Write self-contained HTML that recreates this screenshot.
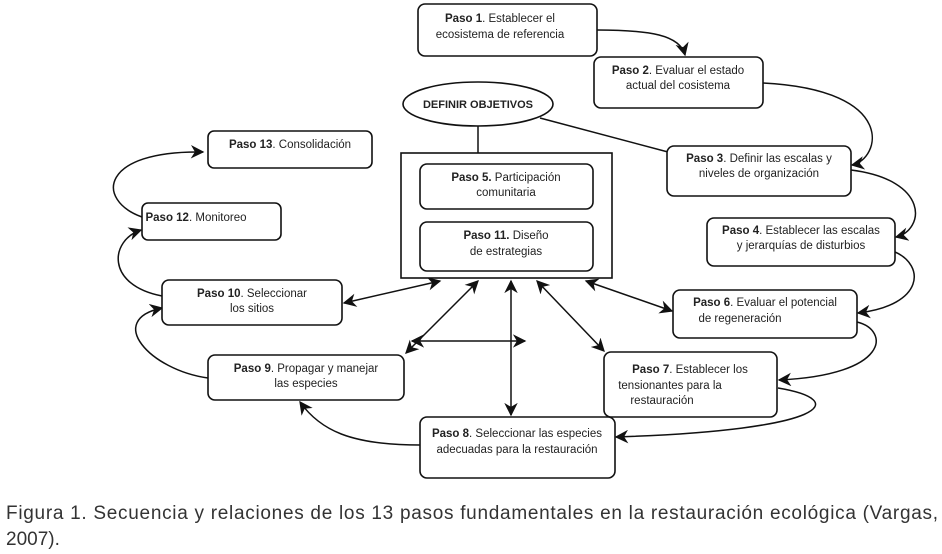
<!DOCTYPE html>
<html><head><meta charset="utf-8"><style>
body{margin:0;background:#fff;}
svg{display:block;font-family:"Liberation Sans",sans-serif;}
.b{fill:#fff;stroke:#111;stroke-width:1.6;}
.l{fill:none;stroke:#111;stroke-width:1.5;}
text{font-size:11.5px;fill:#222;}
.k{font-weight:bold;}
</style></head><body>
<svg width="942" height="554" viewBox="0 0 942 554">
<defs>
<marker id="a" viewBox="0 0 10 10" refX="9" refY="5" markerWidth="9" markerHeight="9" orient="auto-start-reverse"><path d="M0,0 L10,5 L0,10 L3,5z" fill="#111"/></marker>
</defs>
<path class="l" d="M597,30 C650,30 680,35 685,55" marker-end="url(#a)"/>
<path class="l" d="M763,83 C900,90 880,160 852,165" marker-end="url(#a)"/>
<path class="l" d="M851,170 C930,180 925,230 896,237" marker-end="url(#a)"/>
<path class="l" d="M895,252 C925,265 925,305 858,313" marker-end="url(#a)"/>
<path class="l" d="M857,322 C890,330 890,375 779,380" marker-end="url(#a)"/>
<path class="l" d="M778,388 C850,400 830,430 616,437" marker-end="url(#a)"/>
<path class="l" d="M420,445 C350,445 320,430 300,402" marker-end="url(#a)"/>
<path class="l" d="M208,378 C150,370 105,320 162,308" marker-end="url(#a)"/>
<path class="l" d="M162,296 C105,285 110,240 141,230" marker-end="url(#a)"/>
<path class="l" d="M142,217 C95,200 100,150 203,152" marker-end="url(#a)"/>
<line class="l" x1="540" y1="118" x2="668" y2="152"/>
<line class="l" x1="478" y1="126" x2="478" y2="153"/>
<line class="l" x1="344" y1="303" x2="440" y2="281" marker-start="url(#a)" marker-end="url(#a)"/>
<line class="l" x1="406" y1="353" x2="478" y2="281" marker-start="url(#a)" marker-end="url(#a)"/>
<line class="l" x1="511" y1="415" x2="511" y2="281" marker-start="url(#a)" marker-end="url(#a)"/>
<line class="l" x1="604" y1="351" x2="537" y2="281" marker-start="url(#a)" marker-end="url(#a)"/>
<line class="l" x1="672" y1="311" x2="586" y2="281" marker-start="url(#a)" marker-end="url(#a)"/>
<line class="l" x1="412" y1="341" x2="525" y2="341" marker-start="url(#a)" marker-end="url(#a)"/>
<ellipse class="b" cx="478" cy="104" rx="75" ry="22"/>
<text x="478" y="108" text-anchor="middle" class="k" style="font-size:11px">DEFINIR OBJETIVOS</text>
<rect class="b" x="401" y="153" width="211" height="125"/>
<rect class="b" x="420" y="164" width="173" height="45" rx="7"/>
<text x="506" y="181" text-anchor="middle"><tspan class="k">Paso 5.</tspan> Participación</text>
<text x="506" y="196" text-anchor="middle">comunitaria</text>
<rect class="b" x="420" y="222" width="173" height="49" rx="7"/>
<text x="506" y="239" text-anchor="middle"><tspan class="k">Paso 11.</tspan> Diseño</text>
<text x="506" y="255" text-anchor="middle">de estrategias</text>
<rect class="b" x="418" y="4" width="179" height="52" rx="7"/>
<text x="500" y="22" text-anchor="middle"><tspan class="k">Paso 1</tspan>. Establecer el</text>
<text x="500" y="38" text-anchor="middle">ecosistema de referencia</text>
<rect class="b" x="594" y="57" width="169" height="51" rx="7"/>
<text x="678" y="74" text-anchor="middle"><tspan class="k">Paso 2</tspan>. Evaluar el estado</text>
<text x="678" y="89" text-anchor="middle">actual del cosistema</text>
<rect class="b" x="667" y="146" width="184" height="50" rx="7"/>
<text x="759" y="162" text-anchor="middle"><tspan class="k">Paso 3</tspan>. Definir las escalas y</text>
<text x="759" y="177" text-anchor="middle">niveles de organización</text>
<rect class="b" x="707" y="218" width="188" height="48" rx="7"/>
<text x="801" y="234" text-anchor="middle"><tspan class="k">Paso 4</tspan>. Establecer las escalas</text>
<text x="801" y="249" text-anchor="middle">y jerarquías de disturbios</text>
<rect class="b" x="673" y="290" width="184" height="48" rx="7"/>
<text x="765" y="306" text-anchor="middle"><tspan class="k">Paso 6</tspan>. Evaluar el potencial</text>
<text x="740" y="322" text-anchor="middle">de regeneración</text>
<rect class="b" x="604" y="352" width="173" height="65" rx="7"/>
<text x="690" y="373" text-anchor="middle"><tspan class="k">Paso 7</tspan>. Establecer los</text>
<text x="670" y="389" text-anchor="middle">tensionantes para la</text>
<text x="662" y="404" text-anchor="middle">restauración</text>
<rect class="b" x="420" y="417" width="195" height="61" rx="7"/>
<text x="517" y="437" text-anchor="middle"><tspan class="k">Paso 8</tspan>. Seleccionar las especies</text>
<text x="517" y="453" text-anchor="middle">adecuadas para la restauración</text>
<rect class="b" x="208" y="355" width="196" height="45" rx="7"/>
<text x="306" y="372" text-anchor="middle"><tspan class="k">Paso 9</tspan>. Propagar y manejar</text>
<text x="306" y="387" text-anchor="middle">las especies</text>
<rect class="b" x="162" y="280" width="180" height="45" rx="7"/>
<text x="252" y="297" text-anchor="middle"><tspan class="k">Paso 10</tspan>. Seleccionar</text>
<text x="252" y="312" text-anchor="middle">los sitios</text>
<rect class="b" x="142" y="203" width="139" height="37" rx="6"/>
<text x="196" y="221" text-anchor="middle"><tspan class="k">Paso 12</tspan>. Monitoreo</text>
<rect class="b" x="208" y="131" width="164" height="37" rx="6"/>
<text x="290" y="148" text-anchor="middle"><tspan class="k">Paso 13</tspan>. Consolidación</text>
<text x="6" y="519" textLength="932" lengthAdjust="spacing" style="font-size:19px;fill:#333">Figura 1. Secuencia y relaciones de los 13 pasos fundamentales en la restauración ecológica (Vargas,</text>
<text x="6" y="545" style="font-size:19px;fill:#333">2007).</text>
</svg>
</body></html>
